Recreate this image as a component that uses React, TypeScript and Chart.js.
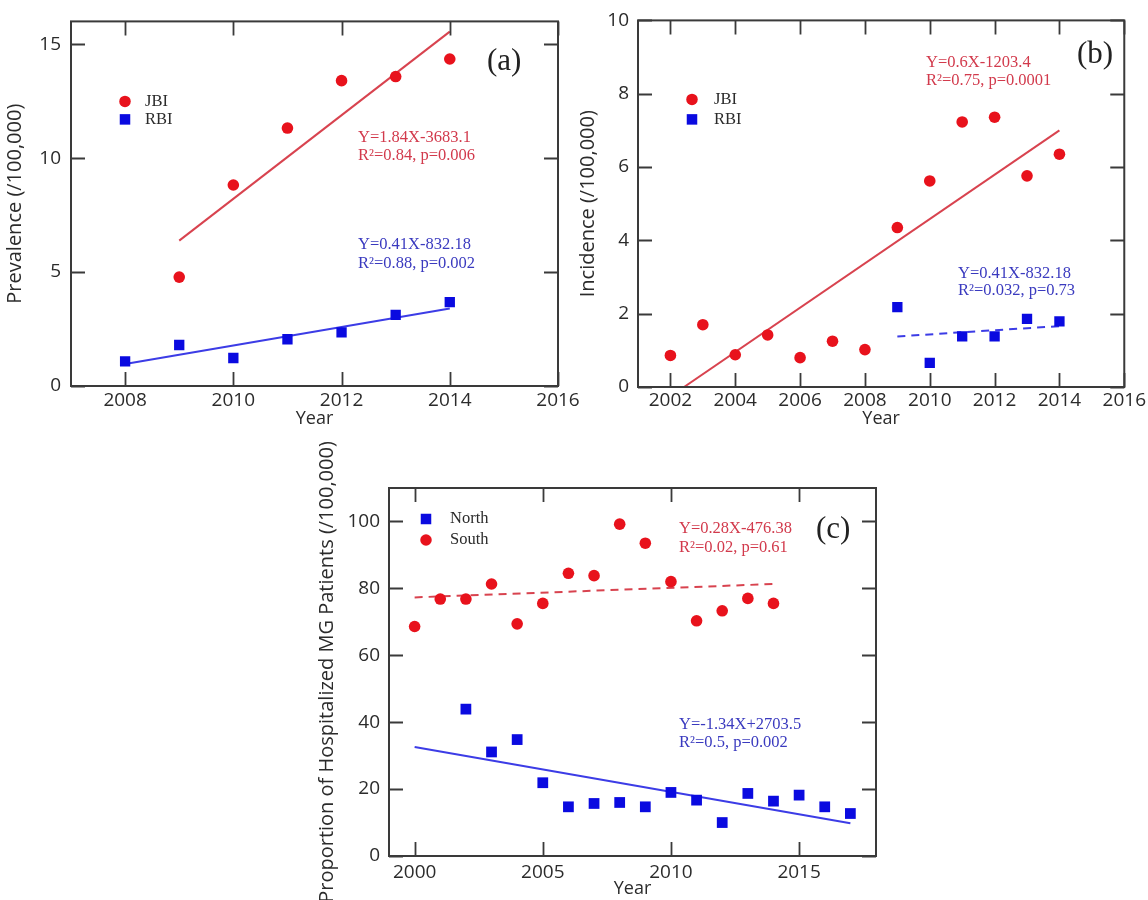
import React, { useEffect, useRef } from 'react';
import { Chart, registerables } from 'chart.js';

Chart.register(...registerables);

// ---------- Panel (a): Prevalence ----------
const A_JBI_YEARS = [2009, 2010, 2011, 2012, 2013, 2014];
const A_JBI = [4.78, 8.82, 11.32, 13.4, 13.58, 14.35];
const A_RBI_YEARS = [2008, 2009, 2010, 2011, 2012, 2013, 2014];
const A_RBI = [1.08, 1.8, 1.23, 2.05, 2.35, 3.12, 3.68];
const A_JBI_FIT_X = [2009, 2014];
const A_JBI_FIT_Y = [6.38, 15.55];
const A_RBI_FIT_X = [2008, 2014];
const A_RBI_FIT_Y = [0.97, 3.4];
const A_X_TICKS = [2008, 2010, 2012, 2014, 2016];
const A_Y_TICKS = [0, 5, 10, 15];

// ---------- Panel (b): Incidence ----------
const B_JBI_YEARS = [2002, 2003, 2004, 2005, 2006, 2007, 2008, 2009, 2010, 2011, 2012, 2013, 2014];
const B_JBI = [0.86, 1.7, 0.88, 1.42, 0.8, 1.25, 1.02, 4.35, 5.62, 7.23, 7.36, 5.76, 6.35];
const B_RBI_YEARS = [2009, 2010, 2011, 2012, 2013, 2014];
const B_RBI = [2.18, 0.66, 1.38, 1.38, 1.86, 1.79];
const B_JBI_FIT_X = [2002.42, 2014];
const B_JBI_FIT_Y = [0, 7.0];
const B_RBI_FIT_X = [2009, 2014];
const B_RBI_FIT_Y = [1.38, 1.66];
const B_X_TICKS = [2002, 2004, 2006, 2008, 2010, 2012, 2014, 2016];
const B_Y_TICKS = [0, 2, 4, 6, 8, 10];

// ---------- Panel (c): Hospitalized MG patients ----------
const C_SOUTH_YEARS = [2000, 2001, 2002, 2003, 2004, 2005, 2006, 2007, 2008, 2009, 2010, 2011, 2012, 2013, 2014];
const C_SOUTH = [68.6, 76.8, 76.8, 81.3, 69.4, 75.5, 84.5, 83.8, 99.2, 93.5, 82.0, 70.3, 73.3, 77.0, 75.5];
const C_NORTH_YEARS = [2002, 2003, 2004, 2005, 2006, 2007, 2008, 2009, 2010, 2011, 2012, 2013, 2014, 2015, 2016, 2017];
const C_NORTH = [43.9, 31.1, 34.8, 21.9, 14.7, 15.7, 16.0, 14.7, 19.0, 16.7, 10.0, 18.7, 16.4, 18.2, 14.7, 12.7];
const C_SOUTH_FIT_X = [2000, 2014];
const C_SOUTH_FIT_Y = [77.3, 81.3];
const C_NORTH_FIT_X = [2000, 2017];
const C_NORTH_FIT_Y = [32.6, 9.8];
const C_X_TICKS = [2000, 2005, 2010, 2015];
const C_Y_TICKS = [0, 20, 40, 60, 80, 100];

// ---------- Styles ----------
const RED = '#e8121c';
const BLUE = '#0a0ae0';
const RED_LINE = '#d8434f';
const BLUE_LINE = '#3c3ce6';
const RED_TEXT = '#d23a4c';
const BLUE_TEXT = '#3a3abf';
const INK = '#2b2b2b';
const SANS = "'Open Sans', 'Noto Sans', sans-serif";
const SERIF = "'Liberation Serif', 'Times New Roman', serif";
const EQ_FONT = `16.5px ${SERIF}`;
const TAG_FONT = `31px ${SERIF}`;

const pts = (xs: number[], ys: number[]) => xs.map((x, i) => ({ x, y: ys[i] }));

type TextItem = { text: string; dx: number; dy: number; color: string; font: string };
type LegendItem = { label: string; style: 'circle' | 'rect'; color: string; dx: number; dy: number; size: number };

function makeDecor(texts: TextItem[], legend: LegendItem[], legendTextDx: number, tickLen: number) {
  return {
    id: 'decor',
    afterDraw(chart: any) {
      const { ctx, chartArea: ca, scales } = chart;
      ctx.save();
      ctx.strokeStyle = '#3a3a3a';
      ctx.lineWidth = 1.8;
      ctx.beginPath();
      for (const t of scales.x.ticks) {
        const px = Math.round(scales.x.getPixelForValue(t.value)) + 0.5;
        ctx.moveTo(px, ca.bottom);
        ctx.lineTo(px, ca.bottom - tickLen);
        ctx.moveTo(px, ca.top);
        ctx.lineTo(px, ca.top + tickLen);
      }
      for (const t of scales.y.ticks) {
        const py = Math.round(scales.y.getPixelForValue(t.value)) + 0.5;
        ctx.moveTo(ca.left, py);
        ctx.lineTo(ca.left + tickLen, py);
        ctx.moveTo(ca.right, py);
        ctx.lineTo(ca.right - tickLen, py);
      }
      ctx.stroke();
      ctx.lineWidth = 2;
      ctx.strokeRect(ca.left, ca.top, ca.right - ca.left, ca.bottom - ca.top);

      ctx.textBaseline = 'middle';
      ctx.textAlign = 'left';
      for (const it of texts) {
        ctx.font = it.font;
        ctx.fillStyle = it.color;
        ctx.fillText(it.text, ca.left + it.dx, ca.top + it.dy);
      }
      for (const lg of legend) {
        const x = ca.left + lg.dx;
        const y = ca.top + lg.dy;
        ctx.fillStyle = lg.color;
        if (lg.style === 'circle') {
          ctx.beginPath();
          ctx.arc(x, y, lg.size / 2, 0, Math.PI * 2);
          ctx.fill();
        } else {
          ctx.fillRect(x - lg.size / 2, y - lg.size / 2, lg.size, lg.size);
        }
        ctx.font = `16.5px ${SERIF}`;
        ctx.fillStyle = INK;
        ctx.fillText(lg.label, ca.left + legendTextDx, y);
      }
      ctx.restore();
    },
  };
}

type PanelCfg = {
  left: number;
  top: number;
  width: number;
  height: number;
  datasets: any[];
  xMin: number;
  xMax: number;
  yMin: number;
  yMax: number;
  xTicks: number[];
  yTicks: number[];
  yTitle: string;
  yAxisWidth: number;
  xAxisHeight: number;
  padTop: number;
  padRight: number;
  yTickPad: number;
  xTickPad: number;
  yTitlePad: number;
  xTitlePad: number;
  texts: TextItem[];
  legend: LegendItem[];
  legendTextDx: number;
};

function Panel({ cfg }: { cfg: PanelCfg }) {
  const ref = useRef<HTMLCanvasElement>(null);
  useEffect(() => {
    if (!ref.current) return;
    const chart = new Chart(ref.current, {
      type: 'scatter',
      data: { datasets: cfg.datasets },
      options: {
        animation: false,
        responsive: false,
        maintainAspectRatio: false,
        layout: { padding: { left: 0, top: cfg.padTop, right: cfg.padRight, bottom: 0 } },
        plugins: { legend: { display: false }, tooltip: { enabled: false } },
        scales: {
          x: {
            type: 'linear',
            min: cfg.xMin,
            max: cfg.xMax,
            grid: { display: false, drawTicks: false },
            border: { display: false },
            afterBuildTicks: (s: any) => {
              s.ticks = cfg.xTicks.map((v) => ({ value: v }));
            },
            afterFit: (s: any) => {
              s.height = cfg.xAxisHeight;
            },
            ticks: {
              autoSkip: false,
              maxRotation: 0,
              padding: cfg.xTickPad,
              color: INK,
              font: { family: SANS, size: 19 },
              callback: (v: any) => String(v),
            },
            title: {
              display: true,
              text: 'Year',
              color: INK,
              font: { family: SANS, size: 18 },
              padding: { top: 0, bottom: cfg.xTitlePad },
            },
          },
          y: {
            type: 'linear',
            min: cfg.yMin,
            max: cfg.yMax,
            grid: { display: false, drawTicks: false },
            border: { display: false },
            afterBuildTicks: (s: any) => {
              s.ticks = cfg.yTicks.map((v) => ({ value: v }));
            },
            afterFit: (s: any) => {
              s.width = cfg.yAxisWidth;
            },
            ticks: {
              autoSkip: false,
              padding: cfg.yTickPad,
              color: INK,
              font: { family: SANS, size: 19 },
              callback: (v: any) => String(v),
            },
            title: {
              display: true,
              text: cfg.yTitle,
              color: INK,
              font: { family: SANS, size: 20 },
              padding: { top: cfg.yTitlePad, bottom: 0 },
            },
          },
        },
      },
      plugins: [makeDecor(cfg.texts, cfg.legend, cfg.legendTextDx, 14)],
    } as any);
    return () => chart.destroy();
  }, [cfg]);
  return (
    <canvas
      ref={ref}
      width={cfg.width}
      height={cfg.height}
      style={{ position: 'absolute', left: cfg.left, top: cfg.top, width: cfg.width, height: cfg.height }}
    />
  );
}

const scatterSet = (label: string, data: any[], color: string, style: string, r: number) => ({
  label,
  data,
  backgroundColor: color,
  borderColor: color,
  borderWidth: 0,
  pointStyle: style,
  pointRadius: r,
  showLine: false,
});

const fitSet = (label: string, data: any[], color: string, dash: number[]) => ({
  label,
  data,
  borderColor: color,
  backgroundColor: color,
  borderWidth: 2,
  borderDash: dash,
  pointRadius: 0,
  showLine: true,
  fill: false,
});

const CFG_A: PanelCfg = {
  left: 0,
  top: 0,
  width: 600,
  height: 440,
  datasets: [
    scatterSet('JBI', pts(A_JBI_YEARS, A_JBI), RED, 'circle', 5.8),
    scatterSet('RBI', pts(A_RBI_YEARS, A_RBI), BLUE, 'rect', 7.3),
    fitSet('JBI fit', pts(A_JBI_FIT_X, A_JBI_FIT_Y), RED_LINE, []),
    fitSet('RBI fit', pts(A_RBI_FIT_X, A_RBI_FIT_Y), BLUE_LINE, []),
  ],
  xMin: 2007,
  xMax: 2016,
  yMin: 0,
  yMax: 16,
  xTicks: A_X_TICKS,
  yTicks: A_Y_TICKS,
  yTitle: 'Prevalence (/100,000)',
  yAxisWidth: 71,
  xAxisHeight: 54,
  padTop: 16,
  padRight: 42,
  yTickPad: 10,
  xTickPad: 3,
  yTitlePad: 3,
  xTitlePad: 10,
  texts: [
    { text: 'Y=1.84X-3683.1', dx: 287, dy: 116, color: RED_TEXT, font: EQ_FONT },
    { text: 'R²=0.84, p=0.006', dx: 287, dy: 134, color: RED_TEXT, font: EQ_FONT },
    { text: 'Y=0.41X-832.18', dx: 287, dy: 223, color: BLUE_TEXT, font: EQ_FONT },
    { text: 'R²=0.88, p=0.002', dx: 287, dy: 242, color: BLUE_TEXT, font: EQ_FONT },
    { text: '(a)', dx: 416, dy: 40, color: '#222', font: TAG_FONT },
  ],
  legend: [
    { label: 'JBI', style: 'circle', color: RED, dx: 54, dy: 80, size: 11.5 },
    { label: 'RBI', style: 'rect', color: BLUE, dx: 54, dy: 98, size: 10.5 },
  ],
  legendTextDx: 74,
};

const CFG_B: PanelCfg = {
  left: 560,
  top: 0,
  width: 588,
  height: 440,
  datasets: [
    scatterSet('JBI', pts(B_JBI_YEARS, B_JBI), RED, 'circle', 5.8),
    scatterSet('RBI', pts(B_RBI_YEARS, B_RBI), BLUE, 'rect', 7.3),
    fitSet('JBI fit', pts(B_JBI_FIT_X, B_JBI_FIT_Y), RED_LINE, []),
    fitSet('RBI fit', pts(B_RBI_FIT_X, B_RBI_FIT_Y), BLUE_LINE, [8, 6]),
  ],
  xMin: 2001,
  xMax: 2016,
  yMin: 0,
  yMax: 10,
  xTicks: B_X_TICKS,
  yTicks: B_Y_TICKS,
  yTitle: 'Incidence (/100,000)',
  yAxisWidth: 78,
  xAxisHeight: 53,
  padTop: 19,
  padRight: 23,
  yTickPad: 9,
  xTickPad: 2,
  yTitlePad: 16,
  xTitlePad: 10,
  texts: [
    { text: 'Y=0.6X-1203.4', dx: 288, dy: 42, color: RED_TEXT, font: EQ_FONT },
    { text: 'R²=0.75, p=0.0001', dx: 288, dy: 60, color: RED_TEXT, font: EQ_FONT },
    { text: 'Y=0.41X-832.18', dx: 320, dy: 253, color: BLUE_TEXT, font: EQ_FONT },
    { text: 'R²=0.032, p=0.73', dx: 320, dy: 270, color: BLUE_TEXT, font: EQ_FONT },
    { text: '(b)', dx: 439, dy: 34, color: '#222', font: TAG_FONT },
  ],
  legend: [
    { label: 'JBI', style: 'circle', color: RED, dx: 54, dy: 79, size: 11.5 },
    { label: 'RBI', style: 'rect', color: BLUE, dx: 54, dy: 99, size: 10.5 },
  ],
  legendTextDx: 76,
};

const CFG_C: PanelCfg = {
  left: 300,
  top: 430,
  width: 600,
  height: 470,
  datasets: [
    scatterSet('North', pts(C_NORTH_YEARS, C_NORTH), BLUE, 'rect', 7.6),
    scatterSet('South', pts(C_SOUTH_YEARS, C_SOUTH), RED, 'circle', 5.8),
    fitSet('South fit', pts(C_SOUTH_FIT_X, C_SOUTH_FIT_Y), RED_LINE, [8, 6]),
    fitSet('North fit', pts(C_NORTH_FIT_X, C_NORTH_FIT_Y), BLUE_LINE, []),
  ],
  xMin: 1999,
  xMax: 2018,
  yMin: 0,
  yMax: 110,
  xTicks: C_X_TICKS,
  yTicks: C_Y_TICKS,
  yTitle: 'Proportion of Hospitalized MG Patients (/100,000)',
  yAxisWidth: 89,
  xAxisHeight: 44,
  padTop: 58,
  padRight: 24,
  yTickPad: 9,
  xTickPad: 5,
  yTitlePad: 15,
  xTitlePad: 0,
  texts: [
    { text: 'Y=0.28X-476.38', dx: 290, dy: 41, color: RED_TEXT, font: EQ_FONT },
    { text: 'R²=0.02, p=0.61', dx: 290, dy: 60, color: RED_TEXT, font: EQ_FONT },
    { text: 'Y=-1.34X+2703.5', dx: 290, dy: 237, color: BLUE_TEXT, font: EQ_FONT },
    { text: 'R²=0.5, p=0.002', dx: 290, dy: 255, color: BLUE_TEXT, font: EQ_FONT },
    { text: '(c)', dx: 427, dy: 42, color: '#222', font: TAG_FONT },
  ],
  legend: [
    { label: 'North', style: 'rect', color: BLUE, dx: 37, dy: 31, size: 10.5 },
    { label: 'South', style: 'circle', color: RED, dx: 37, dy: 52, size: 11.5 },
  ],
  legendTextDx: 61,
};

export default function App() {
  return (
    <div style={{ position: 'absolute', left: 0, top: 0, width: 1148, height: 900, background: '#fff', overflow: 'hidden' }}>
      <Panel cfg={CFG_A} />
      <Panel cfg={CFG_B} />
      <Panel cfg={CFG_C} />
    </div>
  );
}
